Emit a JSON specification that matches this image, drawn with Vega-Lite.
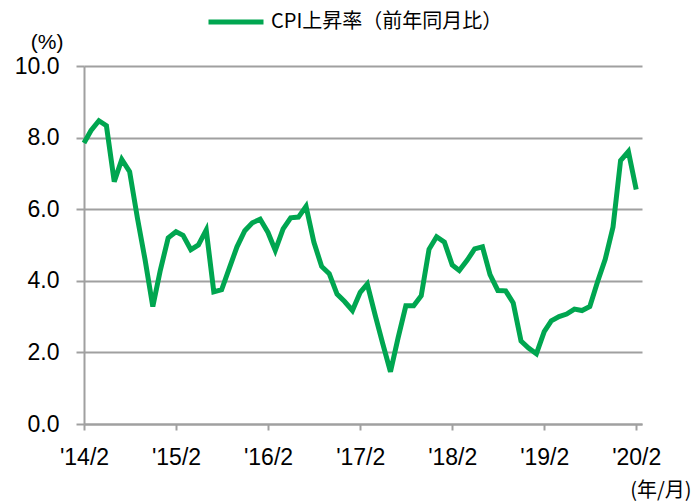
{
  "$schema": "https://vega.github.io/schema/vega-lite/v6.json",
  "width": 558,
  "height": 358,
  "autosize": {"type": "none"},
  "padding": {"left": 84, "top": 66, "right": 58, "bottom": 80},
  "background": "white",
  "config": {
    "view": {"stroke": null},
    "font": "Liberation Sans",
    "axis": {
      "labelFont": "Liberation Sans",
      "labelFontSize": 23,
      "labelColor": "#000000",
      "titleFont": "Liberation Sans",
      "titleFontSize": 21,
      "titleFontWeight": "normal",
      "titleColor": "#000000",
      "domainColor": "#a0a0a0",
      "domainWidth": 2,
      "tickColor": "#a0a0a0",
      "tickWidth": 2,
      "gridColor": "#a0a0a0",
      "gridWidth": 2
    }
  },
  "data": {
    "values": [
      {"date": "2014/02/01", "v": 7.85},
      {"date": "2014/03/01", "v": 8.2},
      {"date": "2014/04/01", "v": 8.47},
      {"date": "2014/05/01", "v": 8.33},
      {"date": "2014/06/01", "v": 6.77},
      {"date": "2014/07/01", "v": 7.39},
      {"date": "2014/08/01", "v": 7.05},
      {"date": "2014/09/01", "v": 5.75},
      {"date": "2014/10/01", "v": 4.6},
      {"date": "2014/11/01", "v": 3.28},
      {"date": "2014/12/01", "v": 4.3},
      {"date": "2015/01/01", "v": 5.2},
      {"date": "2015/02/01", "v": 5.37},
      {"date": "2015/03/01", "v": 5.27},
      {"date": "2015/04/01", "v": 4.87},
      {"date": "2015/05/01", "v": 5.0},
      {"date": "2015/06/01", "v": 5.42},
      {"date": "2015/07/01", "v": 3.69},
      {"date": "2015/08/01", "v": 3.75},
      {"date": "2015/09/01", "v": 4.36},
      {"date": "2015/10/01", "v": 4.95},
      {"date": "2015/11/01", "v": 5.4},
      {"date": "2015/12/01", "v": 5.62},
      {"date": "2016/01/01", "v": 5.72},
      {"date": "2016/02/01", "v": 5.35},
      {"date": "2016/03/01", "v": 4.85},
      {"date": "2016/04/01", "v": 5.45},
      {"date": "2016/05/01", "v": 5.76},
      {"date": "2016/06/01", "v": 5.78},
      {"date": "2016/07/01", "v": 6.08},
      {"date": "2016/08/01", "v": 5.08},
      {"date": "2016/09/01", "v": 4.4},
      {"date": "2016/10/01", "v": 4.2},
      {"date": "2016/11/01", "v": 3.63},
      {"date": "2016/12/01", "v": 3.42},
      {"date": "2017/01/01", "v": 3.17},
      {"date": "2017/02/01", "v": 3.68},
      {"date": "2017/03/01", "v": 3.91},
      {"date": "2017/04/01", "v": 3.05},
      {"date": "2017/05/01", "v": 2.25},
      {"date": "2017/06/01", "v": 1.46},
      {"date": "2017/07/01", "v": 2.4},
      {"date": "2017/08/01", "v": 3.3},
      {"date": "2017/09/01", "v": 3.3},
      {"date": "2017/10/01", "v": 3.58},
      {"date": "2017/11/01", "v": 4.88},
      {"date": "2017/12/01", "v": 5.23},
      {"date": "2018/01/01", "v": 5.08},
      {"date": "2018/02/01", "v": 4.44},
      {"date": "2018/03/01", "v": 4.29},
      {"date": "2018/04/01", "v": 4.57},
      {"date": "2018/05/01", "v": 4.89},
      {"date": "2018/06/01", "v": 4.95},
      {"date": "2018/07/01", "v": 4.17},
      {"date": "2018/08/01", "v": 3.73},
      {"date": "2018/09/01", "v": 3.72},
      {"date": "2018/10/01", "v": 3.38},
      {"date": "2018/11/01", "v": 2.32},
      {"date": "2018/12/01", "v": 2.12},
      {"date": "2019/01/01", "v": 1.96},
      {"date": "2019/02/01", "v": 2.58},
      {"date": "2019/03/01", "v": 2.88},
      {"date": "2019/04/01", "v": 3.0},
      {"date": "2019/05/01", "v": 3.07},
      {"date": "2019/06/01", "v": 3.21},
      {"date": "2019/07/01", "v": 3.17},
      {"date": "2019/08/01", "v": 3.28},
      {"date": "2019/09/01", "v": 3.98},
      {"date": "2019/10/01", "v": 4.6},
      {"date": "2019/11/01", "v": 5.5},
      {"date": "2019/12/01", "v": 7.36},
      {"date": "2020/01/01", "v": 7.61},
      {"date": "2020/02/01", "v": 6.55}
    ]
  },
  "mark": {"type": "line", "strokeWidth": 5, "strokeJoin": "miter", "strokeCap": "butt", "clip": false},
  "encoding": {
    "x": {
      "field": "date",
      "type": "temporal",
      "scale": {"domain": [{"year": 2014, "month": 2, "date": 1}, {"year": 2020, "month": 2, "date": 24}]},
      "axis": {
        "values": [
          {"year": 2014, "month": 2, "date": 1},
          {"year": 2015, "month": 2, "date": 1},
          {"year": 2016, "month": 2, "date": 1},
          {"year": 2017, "month": 2, "date": 1},
          {"year": 2018, "month": 2, "date": 1},
          {"year": 2019, "month": 2, "date": 1},
          {"year": 2020, "month": 2, "date": 1}
        ],
        "format": "'%y/%-m",
        "formatType": "time",
        "grid": false,
        "tickSize": 6,
        "labelPadding": 16,
        "labelFlush": false,
        "labelOverlap": false,
        "title": "(年/月)",
        "titleFont": "Noto Sans CJK JP",
        "titleFontSize": 20,
        "titleAnchor": "end",
        "titleAlign": "right",
        "titleBaseline": "bottom",
        "titleX": 607,
        "titleY": 76
      }
    },
    "y": {
      "field": "v",
      "type": "quantitative",
      "scale": {"domain": [0, 10], "nice": false, "zero": true},
      "axis": {
        "values": [0, 2, 4, 6, 8, 10],
        "format": ".1f",
        "grid": true,
        "tickSize": 8,
        "labelPadding": 17,
        "title": "(%)",
        "titleAngle": 0,
        "titleAlign": "right",
        "titleBaseline": "bottom",
        "titleX": -21,
        "titleY": -14
      }
    },
    "color": {
      "datum": "CPI上昇率（前年同月比）",
      "type": "nominal",
      "scale": {"range": ["#00a650"]},
      "legend": {
        "title": null,
        "orient": "none",
        "legendX": 122,
        "legendY": -74,
        "symbolType": "stroke",
        "symbolSize": 3025,
        "symbolStrokeWidth": 5,
        "labelFont": "Noto Sans CJK JP",
        "labelFontSize": 20,
        "labelColor": "#000000",
        "labelLimit": 500,
        "labelOffset": 5
      }
    }
  }
}
